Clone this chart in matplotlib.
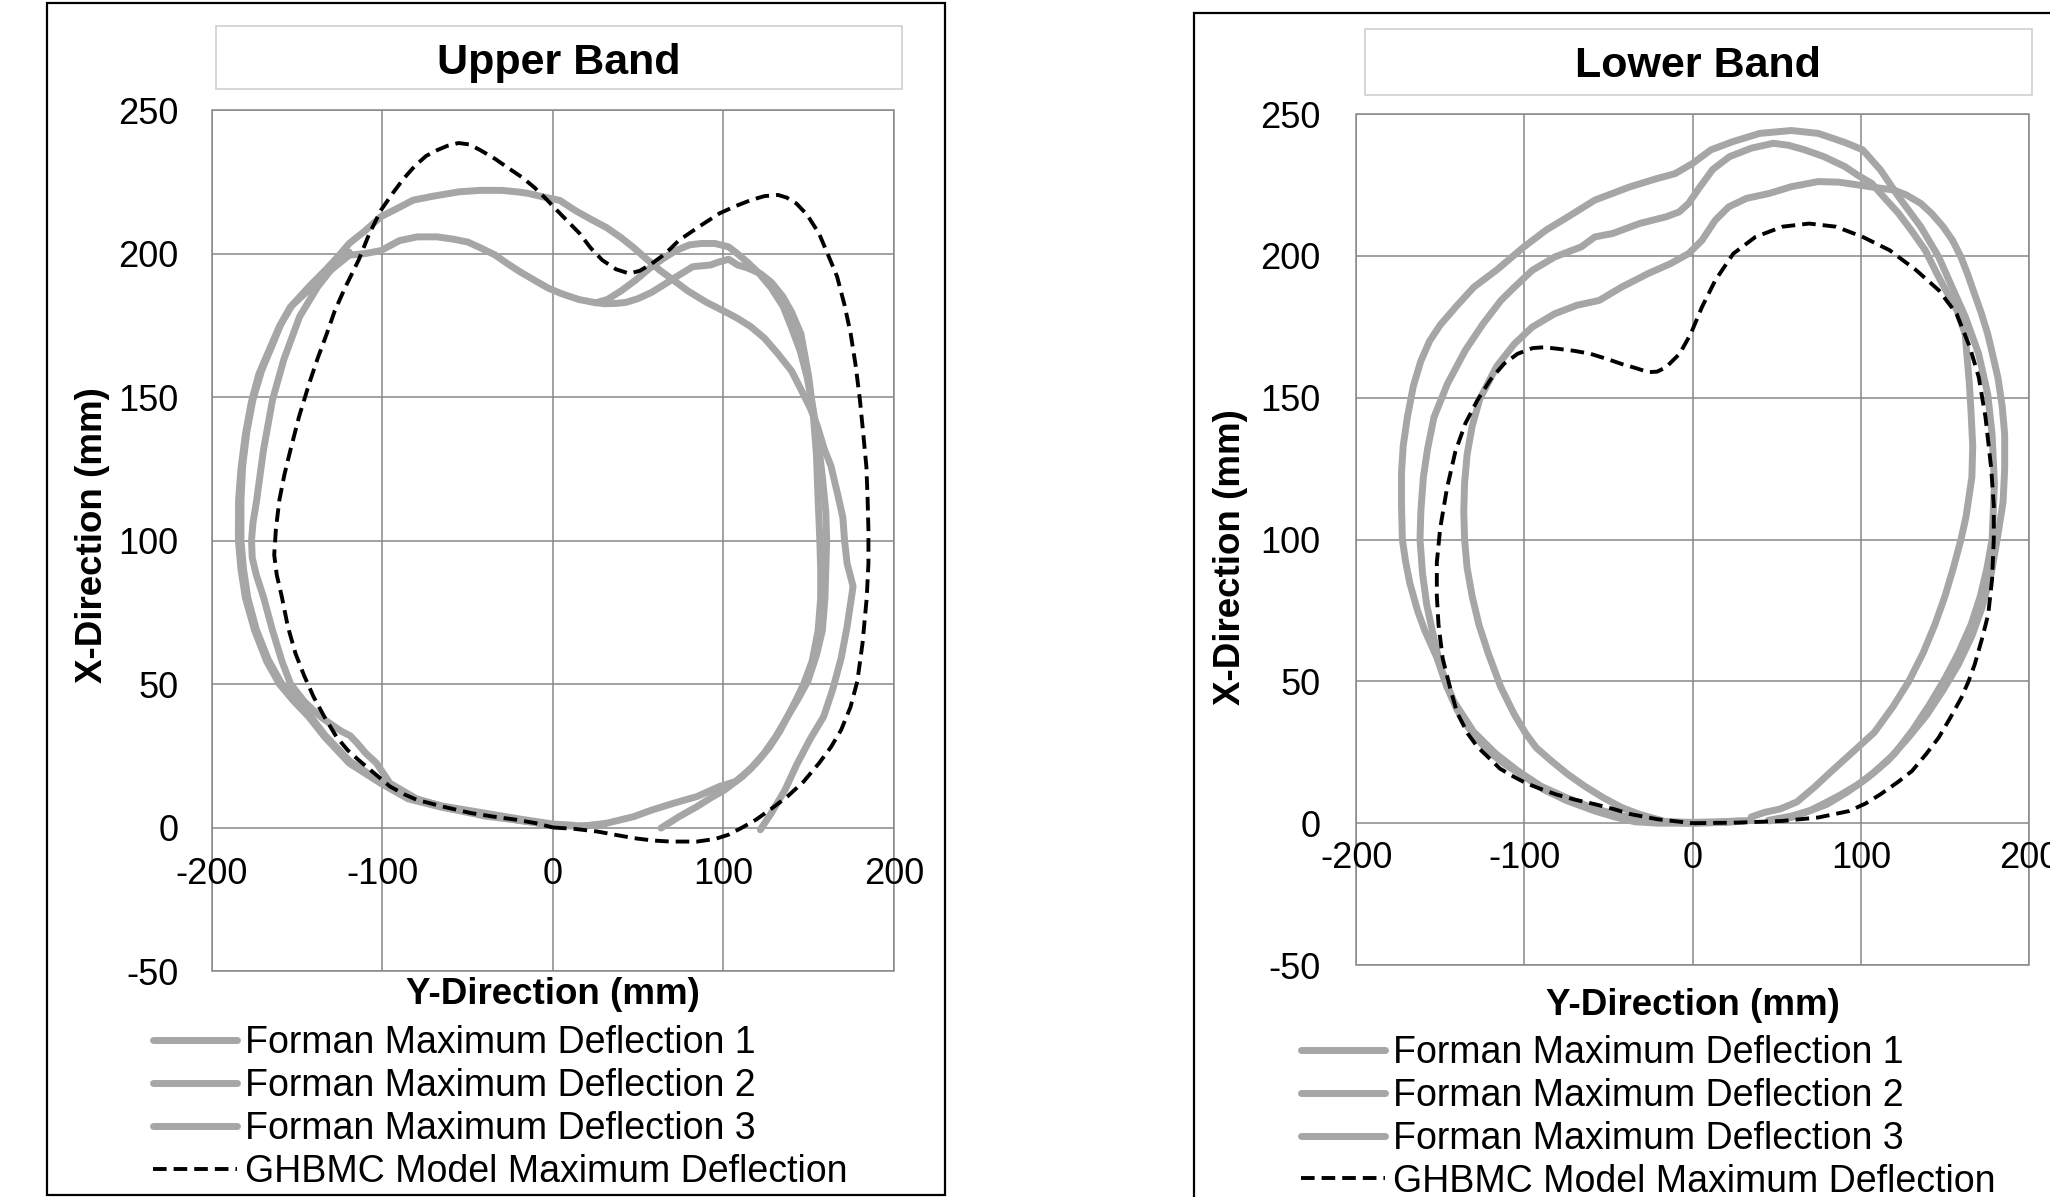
import matplotlib
matplotlib.use("Agg")
from matplotlib import pyplot as plt
from matplotlib.patches import Rectangle

plt.rcParams["font.family"] = ["Liberation Sans", "DejaVu Sans"]
plt.rcParams["axes.unicode_minus"] = False

GRAY = "#a6a6a6"
GRID = "#878787"

labels = ["Forman Maximum Deflection 1", "Forman Maximum Deflection 2",
          "Forman Maximum Deflection 3", "GHBMC Model Maximum Deflection"]
x_ticks = [-200, -100, 0, 100, 200]
y_ticks = [-50, 0, 50, 100, 150, 200, 250]

# points are (Y-direction, X-direction) in mm
upper_forman1 = [(121.6, -0.8), (128, 5), (136, 13), (143, 22), (151, 31), (158.7, 38.6), (164, 48),
                 (169, 59), (172.5, 70), (176, 84), (172.5, 92), (171, 100), (170, 108), (167, 116),
                 (163, 126), (159, 132), (155, 140), (151, 146), (146, 152), (140, 159), (132, 165),
                 (124, 170.5), (116, 174.5), (108, 177.5), (100, 180), (90, 183), (79, 187), (70, 191),
                 (63, 194), (55, 198), (47.4, 202), (40, 205.5), (31.5, 209), (22, 212), (13, 215),
                 (4, 218.5), (-5.6, 219.7), (-15, 221), (-21.5, 221.5), (-30, 222), (-42.6, 222),
                 (-55, 221.5), (-70, 220), (-82, 218.6), (-92, 215.5), (-101, 212.8), (-110, 208),
                 (-119.5, 203.5), (-126, 199), (-133, 194.5), (-143, 188.5), (-153, 182), (-159.5, 175.5),
                 (-164, 169), (-171, 159), (-176, 149), (-179.5, 138), (-182, 126), (-183, 114),
                 (-183, 100), (-181.5, 90), (-179, 80), (-174, 69), (-167, 58.5), (-159.5, 50.5),
                 (-151, 44.5), (-142.5, 39), (-133.5, 32), (-119, 23), (-101, 16), (-85, 10.5),
                 (-65, 7.5), (-40, 5), (-20, 3), (0, 1.2), (12, 0.8)]
upper_forman2 = [(63.3, -0.2), (74, 3.8), (84.5, 7.3), (93, 10.5), (100.4, 13), (111, 17.7), (120, 23),
                 (127, 28), (133, 33.5), (137.5, 38.6), (143, 45), (147, 50), (152, 58), (155.5, 68.7),
                 (157, 80), (157, 90), (156.5, 100), (155.5, 114), (154.5, 130), (152.5, 145), (150, 157),
                 (145.4, 172), (140, 179.5), (134.8, 185), (128, 190), (121.6, 193), (114, 195),
                 (108.3, 196), (103, 198), (97, 197), (92.5, 196), (81.9, 195.4), (74, 192.5),
                 (66, 189.5), (58, 186.5), (50, 184.3), (43, 183), (36.8, 182.6), (30, 182.5),
                 (23.6, 183), (15, 184), (5, 186), (-3, 188), (-10.9, 190.7), (-19, 193.5),
                 (-26.8, 196.5), (-34, 199.5), (-42.6, 202), (-50, 204), (-58.5, 205), (-68, 205.8),
                 (-79.7, 205.8), (-90, 204.5), (-101, 201), (-110, 200), (-119.5, 199.4), (-132.8, 193),
                 (-143.4, 187.2), (-154, 181.4), (-160.5, 174.5), (-166, 167), (-172.5, 158),
                 (-177, 148), (-180.4, 137), (-183, 125), (-184.4, 114), (-184.5, 100), (-183, 90),
                 (-180.4, 80), (-175, 68.7), (-168, 58), (-160.5, 50), (-152, 44), (-143.3, 38.6),
                 (-134, 31.6), (-119.5, 22.4), (-101, 15.4), (-85, 10), (-65, 7), (-40, 4.5),
                 (-20, 2.5), (0, 0.8), (15, 0.5), (30, 1)]
upper_forman3 = [(25, 182.8), (32, 184), (40, 187), (48, 190.5), (56, 194.5), (64, 198), (72, 201),
                 (80, 203), (87, 203.5), (95, 203.5), (103, 202.3), (108, 200), (114, 197), (121, 193),
                 (128, 188), (135, 181.5), (140, 174), (145, 166), (149, 157), (152.5, 146),
                 (155.5, 135), (158, 122), (160, 110), (160.5, 100), (160, 90), (159.5, 80),
                 (158, 68.7), (154.5, 60), (149.5, 51), (143, 44), (137.5, 38.6), (131, 32), (124, 26),
                 (116, 20.5), (107, 16), (97.7, 14.3), (84.5, 10.8), (71, 8.5), (58, 6.1), (47.4, 3.8),
                 (31.5, 1.5), (18, 0.5), (0, 0.8), (-20, 2.5), (-40, 4), (-60, 6.5), (-80, 10),
                 (-95.6, 15.4), (-103.5, 22.4), (-110, 26), (-115, 29.5), (-119, 32), (-124, 33.5),
                 (-129, 35.5), (-135, 38), (-140, 40.5), (-146, 44), (-153.9, 50), (-159, 58),
                 (-164.5, 68.7), (-169.8, 80.3), (-174, 88), (-176.4, 94), (-176.8, 100), (-176, 106),
                 (-173.8, 114), (-169.8, 131.5), (-164.5, 149), (-157.9, 163), (-148.6, 178),
                 (-138, 188.4), (-128, 196), (-119.5, 200.5)]
upper_ghbmc = [(0, 0), (13, -0.5), (26, -1.4), (37, -2.6), (47.4, -3.7), (58, -4.5), (68.6, -4.9),
               (84.5, -4.9), (95, -4), (103, -2.5), (111, 0), (119, 2.7), (128, 6.5), (137.5, 10.8),
               (147, 16), (156, 22.4), (163, 28), (169, 34), (174.5, 42), (178.5, 51), (181.5, 64),
               (184, 80), (185, 92), (185, 103.5), (184.5, 115), (183.8, 125.7), (182, 137), (180, 149),
               (177.5, 161), (174.6, 172), (171, 182), (166.6, 192), (161, 200), (156, 207),
               (149, 213.5), (142.8, 217.4), (137, 219.5), (132, 220.4), (124, 220), (116, 218.6),
               (107, 216.5), (97.7, 214), (86, 209.5), (73.9, 204.6), (66, 200), (58, 196.5),
               (51, 194), (44.8, 193), (37, 194.5), (28.9, 197.7), (22, 202), (15.6, 207), (9, 211),
               (2.4, 215), (-4, 219), (-10.9, 223), (-18, 226.5), (-26.8, 230), (-34, 233),
               (-42.6, 236), (-49, 238), (-55.4, 238.5), (-62, 237.5), (-68, 236), (-74.4, 234),
               (-81, 230.5), (-87.7, 226), (-94, 221), (-101, 215), (-108, 206.5), (-114, 197.7),
               (-122, 188), (-128, 180), (-132.7, 172), (-138, 163.5), (-143, 154.7), (-149, 143),
               (-154, 131.5), (-157.5, 123), (-160.5, 114), (-162.5, 104), (-163.5, 95), (-162, 88),
               (-159, 80.3), (-155.5, 70), (-151, 60.6), (-146, 53), (-140.4, 45.5), (-134, 38.5),
               (-127, 31.6), (-120.5, 27), (-114, 23.5), (-105, 19), (-95.6, 14.3), (-87, 11.5),
               (-79.7, 9.6), (-64, 7.2), (-48, 5), (-35, 3.8), (-21.5, 2.7), (-10, 1.5), (0, 0)]

lower_forman1 = [(45, 1), (58.7, 2.5), (70, 4.5), (80, 7.5), (88, 10), (98.5, 13.7), (108, 18),
                 (120, 24.5), (131, 33), (141, 42), (150, 51), (158, 60), (165.5, 70), (171, 80),
                 (175, 90), (178, 100), (179.4, 119.5), (178, 137.2), (175.4, 151.3), (170, 165.5),
                 (162.2, 178.4), (154.2, 189), (146.3, 199.6), (135.6, 210.3), (122.4, 220.9),
                 (111.7, 230.3), (101.1, 237.4), (90.5, 240), (74.6, 243.2), (58.7, 244.2),
                 (40, 243.2), (24, 240.3), (10.9, 237.4), (0, 232.6), (-10.4, 229), (-21, 227.3),
                 (-37, 224.4), (-58, 219.7), (-74, 213.8), (-87.3, 209), (-100.6, 203), (-116.5, 195),
                 (-130, 189), (-140, 182.5), (-149.8, 175.8), (-156.3, 170), (-161.6, 162.8),
                 (-166, 154), (-169.5, 143.2), (-172, 133), (-173, 123.6), (-173, 112), (-172.5, 100),
                 (-170.5, 92), (-168, 84.5), (-163.5, 75), (-159, 67.7), (-152, 58.4), (-146, 48),
                 (-140, 40), (-133, 33.5), (-122.2, 25.7), (-111, 20.5), (-100, 16.5), (-89, 12),
                 (-75, 8), (-58.1, 4.3), (-45, 2), (-34.2, 0.5), (-20, 0), (0, 0), (20, 0.3), (35, 1)]
lower_forman2 = [(34.8, 2.2), (42.7, 3.8), (52, 5), (62, 7.5), (72, 12.5), (82, 18), (95, 25),
                 (108, 32), (119, 41), (128.5, 50), (137, 60), (144, 70), (150, 80), (155, 90),
                 (159.5, 100), (162.5, 108), (166, 122), (166.5, 133), (165.5, 145), (164.5, 155),
                 (162, 172.5), (157, 181), (151.6, 186.7), (145, 194), (138.3, 202), (130, 209),
                 (122.4, 215), (114, 220.5), (106.4, 225.6), (98, 228.5), (90.5, 231.5), (78, 235),
                 (66.6, 237.4), (57, 239), (48, 239.7), (35, 238), (22, 235), (12, 230.5), (4, 224),
                 (-2.4, 218.5), (-8, 215.5), (-15.7, 213.8), (-31.6, 211.4), (-47.5, 207.9),
                 (-58.1, 206.7), (-66.1, 203.2), (-82, 199.6), (-95.3, 194.9), (-105.9, 189),
                 (-113.9, 184.3), (-124.5, 176.1), (-135.1, 166.7), (-145.7, 154.9), (-153.7, 143.1),
                 (-157.5, 132), (-160, 122), (-161.5, 110), (-162, 100), (-160.5, 88), (-158, 77),
                 (-154, 66), (-149.8, 55), (-142, 43), (-130.1, 32.2), (-117, 24.5), (-104, 18.5),
                 (-90, 13), (-75, 9), (-60, 5.5), (-45, 3), (-30, 1.2), (-15, 0.5), (0, 0.3),
                 (15, 0.5), (28, 0.8)]
lower_forman3 = [(45.4, 0.8), (58.7, 2), (68, 4), (80, 6.7), (92, 11), (104, 16), (116, 22), (128, 30),
                 (139, 38), (149, 47), (158, 56), (166, 66), (172, 76), (177.5, 88), (181, 100),
                 (184.5, 113), (185.5, 125), (185.5, 137), (184, 147), (181.5, 157), (178, 166),
                 (175.4, 172.5), (171.5, 180), (167.5, 186.7), (163.5, 193.5), (159.5, 199.6),
                 (154.5, 205.5), (148.9, 210.3), (142, 215), (135.6, 218.5), (127, 221.5),
                 (119.7, 223.2), (110, 224), (98.5, 225), (87, 226), (74.6, 226.2), (58.7, 224.4),
                 (45.4, 222), (32.1, 220.3), (21.5, 217.3), (13.5, 212.6), (5.6, 205.5), (-2.4, 200.8),
                 (-13, 197.3), (-26.3, 193.8), (-42.2, 189), (-55.5, 184.3), (-68.7, 182.6),
                 (-82, 179.6), (-95.3, 174.9), (-105.9, 169), (-116.5, 161), (-126.5, 149.5),
                 (-131, 140), (-134, 130), (-135.5, 120), (-136, 110), (-135.5, 100), (-134, 90),
                 (-131, 80), (-127, 70), (-121.5, 60), (-114, 48), (-106, 38.4), (-99, 31.5),
                 (-92.9, 26.6), (-84, 22), (-74.3, 17.3), (-64, 13), (-53.1, 9), (-42, 5.5),
                 (-31.9, 3.2), (-15.9, 0.5), (0, 0), (15, 0.3), (30, 0.8)]
lower_ghbmc = [(0, 0), (26.8, 0.2), (53.4, 0.8), (74.6, 2), (93.2, 4.3), (103, 7), (111.7, 10.2),
               (122, 14.5), (130.4, 18.4), (139, 24.5), (146.3, 30.2), (153, 37), (159.7, 44.2),
               (164, 50), (167.7, 56), (172, 65), (175.7, 73.6), (178, 86), (179, 100), (179, 112),
               (177.5, 125), (174.1, 143.1), (170.1, 157.2), (164.8, 167.8), (156.9, 179.6),
               (146.3, 187.9), (133, 194.9), (117.1, 202), (101.1, 206.7), (85.2, 210.3),
               (69.3, 211.4), (53.4, 210.3), (37.4, 206.7), (24.2, 200.8), (13.5, 191.4), (5.6, 182),
               (-1.1, 172.5), (-7.7, 165.5), (-15.7, 160.8), (-21, 159.2), (-26.3, 159), (-34, 160.5),
               (-42.2, 161.9), (-50, 163.5), (-60.8, 165.5), (-70, 166.5), (-79.4, 167.2),
               (-88, 167.8), (-95, 167.5), (-104, 165.5), (-112, 162), (-120, 156.5), (-128, 149),
               (-135, 141), (-141, 131), (-146, 118), (-150, 104), (-152, 92), (-152, 80), (-151, 70),
               (-148.5, 58), (-144, 47.5), (-140, 39), (-133.5, 31.5), (-128, 27), (-121, 23),
               (-114.4, 19.2), (-106, 16.3), (-98.6, 14), (-89, 11.8), (-80.9, 10.1), (-70, 8.3),
               (-58.1, 6.7), (-47, 5), (-36.9, 3.2), (-21, 1.4), (0, 0)]


def draw_band(ax, forman, model, xpad, ypad):
    lines = []
    for pts in forman:
        xs, ys = zip(*pts)
        l, = ax.plot(xs, ys, color=GRAY, lw=5.0, solid_joinstyle="round",
                     solid_capstyle="round", zorder=3)
        lines.append(l)
    xs, ys = zip(*model)
    l, = ax.plot(xs, ys, color="black", lw=2.8, dashes=(3.5, 1.8), zorder=4)
    lines.append(l)

    ax.set_xlim(-200, 200)
    ax.set_ylim(-50, 250)
    ax.set_xticks(x_ticks)
    ax.set_yticks(y_ticks)
    ax.grid(True, color=GRID, lw=1.1)
    ax.set_axisbelow(True)
    for s in ax.spines.values():
        s.set_visible(False)
    # excel style: the value axis crosses at 0
    ax.spines["bottom"].set_position(("data", 0))
    ax.patch.set_edgecolor(GRID)
    ax.patch.set_linewidth(1.1)
    ax.tick_params(length=0, labelsize=26, colors="black")
    ax.tick_params(axis="x", pad=xpad)
    ax.tick_params(axis="y", pad=ypad)
    return lines


fig = plt.figure(figsize=(20.5, 11.97), dpi=100)

# chart borders
fig.add_artist(Rectangle((0.0229, 0.0017), 0.4381, 0.9958, transform=fig.transFigure,
                         fill=False, edgecolor="black", lw=1.6))
fig.add_artist(Rectangle((0.5824, -0.05), 0.5, 1.0391, transform=fig.transFigure,
                         fill=False, edgecolor="black", lw=1.6))

# title boxes
fig.add_artist(Rectangle((0.1054, 0.9257), 0.3346, 0.0526, transform=fig.transFigure,
                         fill=False, edgecolor="#d0d0d0", lw=1.2))
fig.text(0.2727, 0.9475, "Upper Band", ha="center", va="center", fontsize=31, fontweight="bold")
fig.add_artist(Rectangle((0.6659, 0.9206), 0.3254, 0.0551, transform=fig.transFigure,
                         fill=False, edgecolor="#d0d0d0", lw=1.2))
fig.text(0.8285, 0.9445, "Lower Band", ha="center", va="center", fontsize=31, fontweight="bold")

legend_kw = dict(loc="upper left", bbox_transform=fig.transFigure, frameon=False, fontsize=27,
                 borderpad=0, borderaxespad=0, handlelength=2.25, handletextpad=0.2,
                 labelspacing=0.185)

ax1 = fig.add_axes([0.1034, 0.1888, 0.3327, 0.7193])
h1 = draw_band(ax1, [upper_forman1, upper_forman2, upper_forman3], upper_ghbmc, 21.5, 24)
ax1.set_xlabel("Y-Direction (mm)", fontsize=26.5, fontweight="bold")
ax1.set_ylabel("X-Direction (mm)", fontsize=26.5, fontweight="bold")
ax1.xaxis.set_label_coords(0.5, -0.007)
ax1.yaxis.set_label_coords(-0.150, 0.506)
ax1.legend(h1, labels, bbox_to_anchor=(0.0746, 0.1435), **legend_kw)

ax2 = fig.add_axes([0.6615, 0.1938, 0.3283, 0.7109])
h2 = draw_band(ax2, [lower_forman1, lower_forman2, lower_forman3], lower_ghbmc, 12.5, 25.5)
ax2.set_xlabel("Y-Direction (mm)", fontsize=26.5, fontweight="bold")
ax2.set_ylabel("X-Direction (mm)", fontsize=26.5, fontweight="bold")
ax2.xaxis.set_label_coords(0.5, -0.027)
ax2.yaxis.set_label_coords(-0.161, 0.479)
ax2.legend(h2, labels, bbox_to_anchor=(0.6346, 0.1355), **legend_kw)

fig.savefig("out.png", dpi=100)
